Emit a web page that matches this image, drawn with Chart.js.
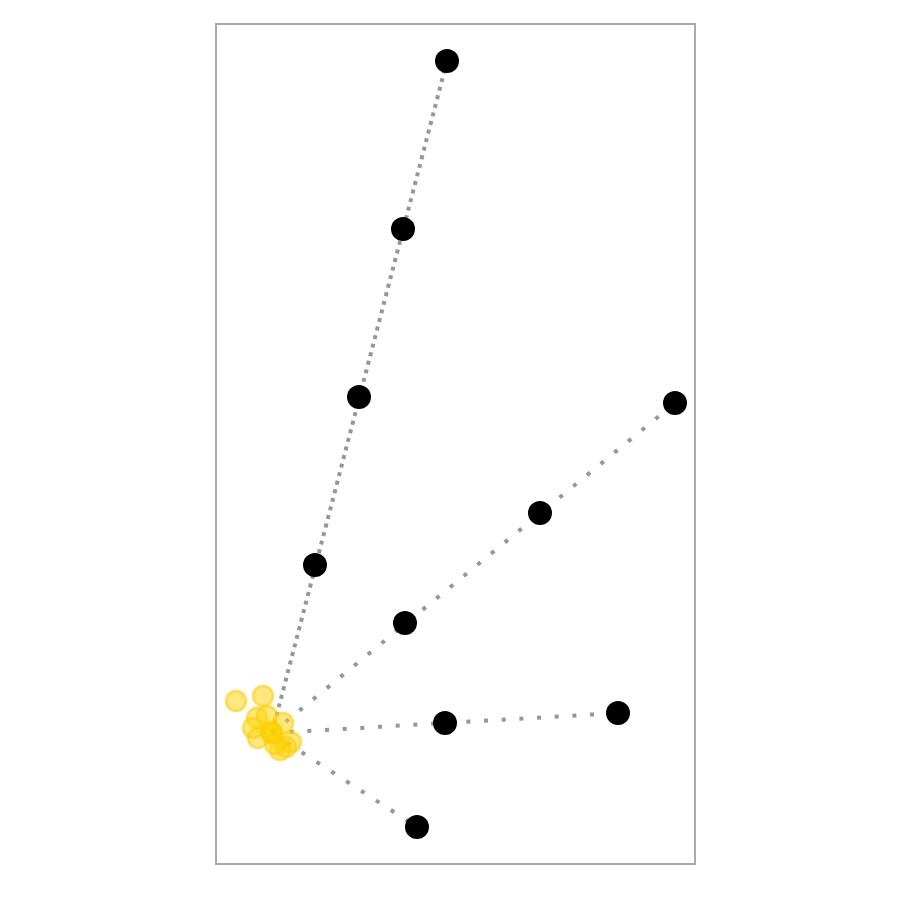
<!DOCTYPE html>
<html>
<head>
<meta charset="utf-8">
<script src="https://cdn.jsdelivr.net/npm/chart.js@4/dist/chart.umd.min.js"></script>
<style>
  html, body { margin: 0; padding: 0; background: #fff; }
  #wrap { width: 900px; height: 900px; }
</style>
</head>
<body>
<div id="wrap"><canvas id="chart" width="900" height="900"></canvas></div>
<script>
// shared origin of all the rays
const center = { x: 57, y: 130 };

// black points, one array per ray
const rayA = [{ x: 100, y: 298 }, { x: 144, y: 466 }, { x: 188, y: 634 }, { x: 232, y: 802 }];
const rayB = [{ x: 190, y: 240 }, { x: 325, y: 350 }, { x: 460, y: 460 }];
const rayC = [{ x: 230, y: 140 }, { x: 403, y: 150 }];
const rayD = [{ x: 202, y: 36 }];

// yellow cluster round the origin
const cluster = [
  { x: 21, y: 162 }, { x: 48, y: 167 }, { x: 42, y: 145 }, { x: 52, y: 147 },
  { x: 38, y: 135 }, { x: 68, y: 140 }, { x: 43, y: 125 }, { x: 76, y: 121 },
  { x: 65, y: 113 }, { x: 71, y: 116 }, { x: 60, y: 119 },
  { x: 57, y: 130 }, { x: 57, y: 130 }, { x: 56, y: 131 },
];

const X_MAX = 480;
const Y_MAX = 840;

const LINE_GREY = '#979797';

function ray(points, offset) {
  return {
    data: [center, points[points.length - 1]],
    showLine: true,
    borderColor: LINE_GREY,
    borderWidth: 4,
    borderDash: [4, 13.7],
    borderDashOffset: offset || 0,
    borderCapStyle: 'butt',
    pointRadius: 0,
    pointHoverRadius: 0,
    order: 3,
    clip: false,
  };
}

// draws the grey frame round the plot
const frame = {
  id: 'frame',
  afterDraw(chart) {
    const { ctx, chartArea: a } = chart;
    ctx.save();
    ctx.strokeStyle = '#aaaaaa';
    ctx.lineWidth = 2;
    ctx.strokeRect(a.left + 1, a.top + 1, a.right - a.left - 1, a.bottom - a.top);
    ctx.restore();
  },
};

const blacks = [...rayA, ...rayB, ...rayC, ...rayD];

new Chart(document.getElementById('chart'), {
  type: 'scatter',
  data: {
    datasets: [
      ray(rayA), ray(rayA, 8.85), ray(rayB), ray(rayC), ray(rayD),
      {
        data: blacks,
        backgroundColor: '#000',
        borderColor: '#000',
        borderWidth: 0,
        pointRadius: 12,
        pointHoverRadius: 12,
        order: 2,
        clip: false,
      },
      {
        data: cluster,
        backgroundColor: 'rgba(255, 212, 0, 0.5)',
        borderColor: 'rgba(255, 205, 0, 0.6)',
        borderWidth: 2.5,
        pointRadius: 10,
        pointHoverRadius: 10,
        order: 1,
        clip: false,
      },
    ],
  },
  options: {
    responsive: false,
    animation: false,
    events: [],
    layout: { padding: { left: 215, right: 205, top: 23, bottom: 37 } },
    plugins: { legend: { display: false }, tooltip: { enabled: false } },
    scales: {
      x: { type: 'linear', min: 0, max: X_MAX, display: false },
      y: { type: 'linear', min: 0, max: Y_MAX, display: false },
    },
  },
  plugins: [frame],
});
</script>
</body>
</html>
